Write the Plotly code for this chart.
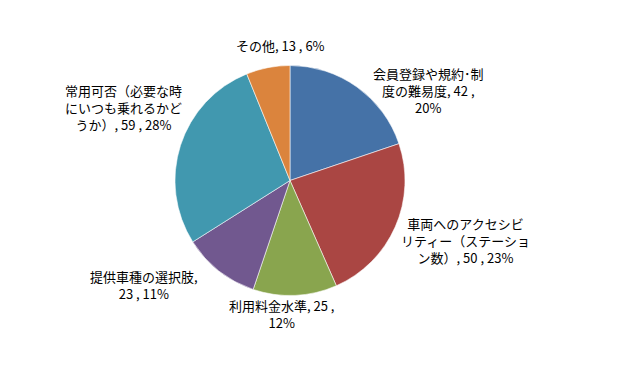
import plotly.graph_objects as go

categories = ["会員登録や規約・制度の難易度", "車両へのアクセシビリティー（ステーション数）",
              "利用料金水準", "提供車種の選択肢", "常用可否（必要な時にいつも乗れるかどうか）", "その他"]
values = [42, 50, 25, 23, 59, 13]
percents = ["20%", "23%", "12%", "11%", "28%", "6%"]
label_texts = [
    "会員登録や規約･制<br>度の難易度, 42 ,<br>20%",
    "車両へのアクセシビ<br>リティー（ステーショ<br>ン数）, 50 , 23%",
    "利用料金水準, 25 ,<br>12%",
    "提供車種の選択肢,<br>23 , 11%",
    "常用可否（必要な時<br>にいつも乗れるかど<br>うか）, 59 , 28%",
    "その他, 13 , 6%",
]
colors = ["#4572A7", "#AA4643", "#89A54E", "#71588F", "#4198AF", "#DB843D"]

W, H = 618, 368
label_pos = [(428, 91), (465, 240), (281, 314), (144, 285), (123, 107), (280, 45)]

fig = go.Figure(go.Pie(
    labels=categories, values=values, sort=False, direction="clockwise", rotation=0,
    marker=dict(colors=colors, line=dict(color="rgba(255,255,255,0.7)", width=0.8)),
    textinfo="none", hoverinfo="label+value+percent", showlegend=False,
    domain=dict(x=[175 / W, 405 / W], y=[1 - 296 / H, 1 - 65 / H]),
))

for t, (px, py) in zip(label_texts, label_pos):
    fig.add_annotation(x=px / W, y=1 - py / H, xref="paper", yref="paper", text=t,
                       showarrow=False, xanchor="center", yanchor="middle", align="center",
                       font=dict(family="Noto Sans CJK JP, sans-serif", size=13, color="#000000"))

fig.update_layout(width=W, height=H, margin=dict(l=0, r=0, t=0, b=0),
                  paper_bgcolor="white", plot_bgcolor="white")
fig.write_html("out.html")
